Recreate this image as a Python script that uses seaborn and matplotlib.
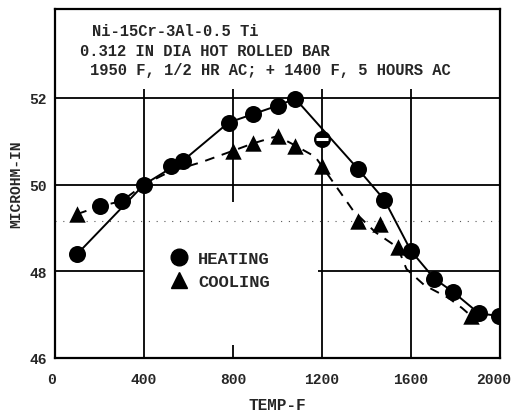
import matplotlib
matplotlib.use("Agg")
import matplotlib.pyplot as plt
import matplotlib.transforms as mtransforms
from matplotlib.lines import Line2D
import seaborn as sns
import pandas as pd

# ---- data ----
heat_x = [100, 200, 300, 400, 520, 575, 780, 890, 1000, 1080, 1200, 1360, 1480, 1600, 1705, 1790, 1905, 1995]
heat_y = [48.4, 49.5, 49.62, 50.0, 50.42, 50.55, 51.43, 51.62, 51.82, 51.98, 51.06, 50.37, 49.65, 48.47, 47.83, 47.52, 47.03, 46.97]
cool_x = [100, 800, 890, 1000, 1080, 1200, 1360, 1460, 1540, 1870]
cool_y = [49.32, 50.78, 50.95, 51.12, 50.9, 50.42, 49.15, 49.1, 48.55, 46.97]

heat_curve_x = [100, 400, 575, 780, 1000, 1080, 1360, 1480, 1600, 1705, 1790, 1905, 1995]
heat_curve_y = [48.4, 50.0, 50.55, 51.43, 51.82, 51.98, 50.37, 49.65, 48.47, 47.83, 47.52, 47.03, 46.97]
cool_curve_x = [100, 200, 300, 400, 517, 660, 800, 890, 1000, 1080, 1170, 1200, 1340, 1440, 1540, 1580, 1660, 1770, 1830, 1870]
cool_curve_y = [49.32, 49.5, 49.62, 50.0, 50.3, 50.52, 50.78, 50.95, 51.12, 50.9, 50.64, 50.42, 49.4, 48.9, 48.55, 48.05, 47.68, 47.38, 47.15, 46.97]

x_ticks = [0, 400, 800, 1200, 1600, 2000]
y_ticks = [46, 48, 50, 52]
title_lines = ["Ni-15Cr-3Al-0.5 Ti",
               "0.312 IN DIA HOT ROLLED BAR",
               "1950 F, 1/2 HR AC; + 1400 F, 5 HOURS AC"]

sns.set_style("white")
plt.rcParams['font.family'] = ['Liberation Mono', 'DejaVu Sans Mono']
plt.rcParams['font.weight'] = 'bold'

W, H = 515, 414
fig = plt.figure(figsize=(W / 100, H / 100), dpi=100)
ax = fig.add_axes([55 / W, 1 - 359 / H, 445 / W, 349 / H])
ax.set_xlim(0, 2000)
ax.set_ylim(46, 54.05)

# grid (partially interrupted for the legend area)
gk = dict(color='black', lw=1.3, zorder=1)
ax.vlines([400, 1200, 1600], 46, 52.2, **gk)
ax.vlines([800], 49.6, 52.2, **gk)
ax.vlines([800], 46, 46.3, **gk)
ax.hlines([50, 52], 0, 2000, **gk)
ax.hlines([48], 0, 400, **gk)
ax.hlines([48], 1180, 2000, **gk)
ax.hlines([49.17], 0, 2000, color='0.35', lw=0.8, linestyles=(0, (1, 6)), zorder=1)

hc = pd.DataFrame({'x': heat_curve_x, 'y': heat_curve_y})
cc = pd.DataFrame({'x': cool_curve_x, 'y': cool_curve_y})
sns.lineplot(data=hc, x='x', y='y', ax=ax, color='black', lw=1.4, sort=False, zorder=2)
sns.lineplot(data=cc, x='x', y='y', ax=ax, color='black', lw=1.4, sort=False, zorder=2,
             linestyle=(0, (5, 4)))

hd = pd.DataFrame({'x': heat_x, 'y': heat_y})
cd = pd.DataFrame({'x': cool_x, 'y': cool_y})
sns.scatterplot(data=hd, x='x', y='y', ax=ax, marker='o', s=150, color='black',
                edgecolor='black', linewidth=0, zorder=3)
sns.scatterplot(data=cd, x='x', y='y', ax=ax, marker='^', s=140, color='black',
                edgecolor='black', linewidth=0, zorder=3)
ax.plot([1200], [51.06], marker='_', ms=9, mew=2.2, color='white', zorder=4)

for sp in ax.spines.values():
    sp.set_linewidth(1.6)
    sp.set_color('black')

ax.set_xticks(x_ticks)
ax.set_yticks(y_ticks)
ax.set_xticklabels([str(v) for v in x_ticks], fontsize=10.5, fontweight='bold')
ax.set_yticklabels([str(v) for v in y_ticks], fontsize=10.5, fontweight='bold')
ax.tick_params(axis='x', length=0, pad=10)
ax.tick_params(axis='y', length=0, pad=6)
# nudge the first and last x tick labels to match the reference
xl = ax.get_xticklabels()
xl[0].set_transform(xl[0].get_transform() + mtransforms.ScaledTranslation(-4 / 100, 0, fig.dpi_scale_trans))
xl[-1].set_transform(xl[-1].get_transform() + mtransforms.ScaledTranslation(-6 / 100, 0, fig.dpi_scale_trans))
ax.set_xlabel("TEMP-F", fontsize=11.5, fontweight='bold', labelpad=8)
ax.set_ylabel("MICROHM-IN", fontsize=10.5, fontweight='bold', labelpad=4)

# header text
for (px, py), t in zip([(92, 32), (80, 51), (90, 71)], title_lines):
    fig.text(px / W, 1 - py / H, t, fontsize=11.2, fontweight='bold', va='center', ha='left')

handles = [Line2D([], [], marker='o', ls='none', color='black', ms=12),
           Line2D([], [], marker='^', ls='none', color='black', ms=12)]
leg = ax.legend(handles, ['HEATING', 'COOLING'], loc='center left', frameon=False,
                bbox_to_anchor=(162 / W, 1 - 271 / H), bbox_transform=fig.transFigure,
                prop={'family': 'Liberation Mono', 'weight': 'bold', 'size': 12.3},
                handlelength=1.0, handletextpad=0.62, labelspacing=0.45, borderpad=0)

fig.savefig("out.png", dpi=100)
